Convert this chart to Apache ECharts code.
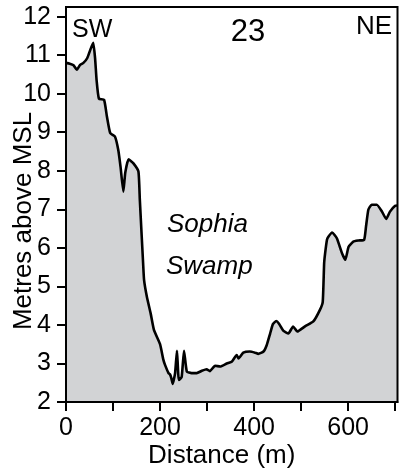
<!DOCTYPE html>
<html>
<head>
<meta charset="utf-8">
<script src="https://cdn.jsdelivr.net/npm/echarts@6/dist/echarts.min.js"></script>
<style>
html,body{margin:0;padding:0;background:#fff;}
#chart{width:399px;height:474px;}
</style>
</head>
<body>
<div id="chart"></div>
<script>
// Distance along transect (m)
const distance = [0,8,16,23,30,37,45,52,58,62,65,70,81,87,94,104,111,116,122,126,133,143,154,157,161,164,166,172,180,187,200,207,211,218,221,224,227,232,236,240,246,251,257,267,278,289,299,306,317,328,342,353,363,367,377,391,402,409,420,427,434,440,447,453,462,473,483,492,509,526,540,546,549,551,555,558,566,576,587,594,601,611,622,634,638,643,650,661,672,681,689,700,705];
// Elevation (metres above MSL)
const elevation = [10.8,10.78,10.74,10.62,10.75,10.8,10.92,11.15,11.32,10.9,10.36,9.87,9.84,9.41,8.98,8.89,8.55,8.1,7.46,7.95,8.3,8.2,7.98,7.25,6.3,5.6,5.17,4.73,4.3,3.87,3.5,3.1,2.95,2.75,2.72,2.62,2.47,2.75,3.33,2.57,2.65,3.33,2.79,2.75,2.75,2.81,2.85,2.8,2.94,2.92,3.0,3.05,3.22,3.13,3.28,3.31,3.28,3.25,3.31,3.48,3.77,4.02,4.1,4.03,3.85,3.78,3.96,3.83,3.97,4.09,4.39,4.6,5.6,5.85,6.21,6.29,6.4,6.25,5.86,5.69,6.03,6.16,6.19,6.21,6.55,6.99,7.12,7.12,6.94,6.75,6.94,7.09,7.1];
const xTicks = [0,100,200,300,400,500,600,700];
const xTickLabels = [0,200,400,600];
const yTicks = [2,3,4,5,6,7,8,9,10,11,12];
const xAxisTitle = 'Distance (m)';
const yAxisTitle = 'Metres above MSL';
const profileNumber = '23';
const leftEnd = 'SW';
const rightEnd = 'NE';
const placeLines = ['Sophia', 'Swamp'];

const FONT = '"Liberation Sans", Arial, Helvetica, sans-serif';
const chart = echarts.init(document.getElementById('chart'), null, {renderer: 'canvas'});
const data = distance.map((d, i) => [d, elevation[i]]);

chart.setOption({
  animation: false,
  backgroundColor: '#ffffff',
  grid: {left: 66, right: 1.5, top: 7, bottom: 72, show: true, borderColor: '#000', borderWidth: 2, backgroundColor: 'transparent', z: 10, containLabel: false, outerBoundsMode: 'none'},
  xAxis: {
    type: 'value', min: 0, max: 705,
    name: xAxisTitle, nameLocation: 'middle', nameGap: 41, nameMoveOverlap: false,
    nameTextStyle: {fontFamily: FONT, fontSize: 26, color: '#000', padding: [0, 20, 0, 0]},
    axisLine: {show: true, onZero: false, lineStyle: {color: '#000', width: 2}},
    axisTick: {show: true, length: 9, lineStyle: {color: '#000', width: 2}, customValues: xTicks},
    axisLabel: {fontFamily: FONT, fontSize: 25, color: '#000', margin: 14, customValues: xTickLabels},
    splitLine: {show: false}
  },
  yAxis: {
    type: 'value', min: 2, max: 12.25,
    name: yAxisTitle, nameLocation: 'middle', nameGap: 29, nameMoveOverlap: false,
    nameTextStyle: {fontFamily: FONT, fontSize: 26, color: '#000', padding: [0, 33, 0, 0]},
    axisLine: {show: true, onZero: false, lineStyle: {color: '#000', width: 2}},
    axisTick: {show: true, length: 9, lineStyle: {color: '#000', width: 2}, customValues: yTicks},
    axisLabel: {fontFamily: FONT, fontSize: 25, color: '#000', margin: 15, customValues: yTicks},
    splitLine: {show: false}
  },
  series: [{
    type: 'line',
    data: data,
    showSymbol: false,
    symbol: 'none',
    smooth: 0.15,
    lineStyle: {color: '#000', width: 2.6},
    areaStyle: {color: '#d2d3d5', opacity: 1, origin: 'start'},
    z: 3
  }],
  graphic: [
    {type: 'text', left: 72, top: 18, style: {text: leftEnd, font: '25px ' + FONT, fill: '#000'}},
    {type: 'text', x: 248, y: 32, style: {text: profileNumber, font: '31px ' + FONT, fill: '#000', align: 'center', verticalAlign: 'middle'}},
    {type: 'text', x: 392, y: 27, style: {text: rightEnd, font: '26px ' + FONT, fill: '#000', align: 'right', verticalAlign: 'middle'}},
    {type: 'text', x: 167, y: 225, style: {text: placeLines[0], font: 'italic 26px ' + FONT, fill: '#000', align: 'left', verticalAlign: 'middle'}},
    {type: 'text', x: 166, y: 267, style: {text: placeLines[1], font: 'italic 26px ' + FONT, fill: '#000', align: 'left', verticalAlign: 'middle'}}
  ]
});
</script>
</body>
</html>
